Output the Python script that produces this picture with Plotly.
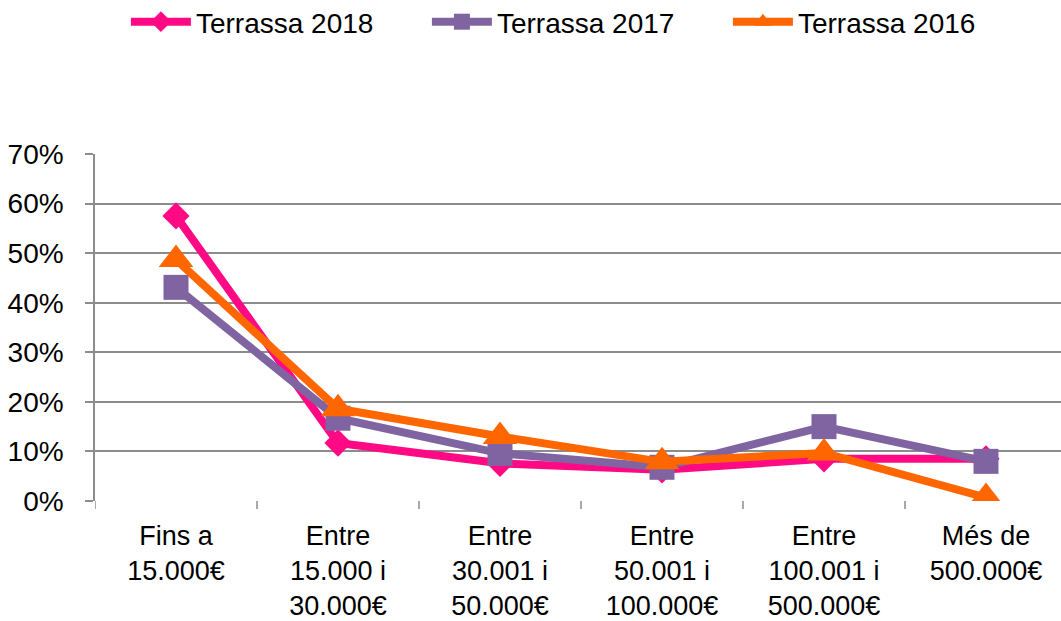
import plotly.graph_objects as go

categories = [
    "Fins a<br>15.000€",
    "Entre<br>15.000 i<br>30.000€",
    "Entre<br>30.001 i<br>50.000€",
    "Entre<br>50.001 i<br>100.000€",
    "Entre<br>100.001 i<br>500.000€",
    "Més de<br>500.000€",
]

terrassa_2018 = [0.575, 0.117, 0.076, 0.063, 0.085, 0.085]
terrassa_2017 = [0.431, 0.167, 0.096, 0.068, 0.150, 0.080]
terrassa_2016 = [0.487, 0.186, 0.130, 0.079, 0.097, 0.007]

y_ticks = [0, 0.1, 0.2, 0.3, 0.4, 0.5, 0.6, 0.7]
y_tick_labels = ["0%", "10%", "20%", "30%", "40%", "50%", "60%", "70%"]

series = [
    ("Terrassa 2018", terrassa_2018, "#FF0A84", "diamond", 21),
    ("Terrassa 2017", terrassa_2017, "#8064A2", "square", 25),
    ("Terrassa 2016", terrassa_2016, "#FF6600", "triangle-up", 30),
]

FONT = "Liberation Sans, Arial, sans-serif"

fig = go.Figure()
for name, values, color, symbol, size in series:
    fig.add_trace(go.Scatter(
        x=list(range(len(categories))),
        y=values,
        name=name,
        mode="lines+markers",
        line=dict(color=color, width=8),
        marker=dict(symbol=symbol, size=size, color=color, line=dict(width=0)),
    ))

grid = "#8C8C8C"
fig.update_layout(
    width=1061,
    height=621,
    paper_bgcolor="white",
    plot_bgcolor="white",
    margin=dict(l=95, r=0, t=154, b=120, autoexpand=False),
    font=dict(family=FONT, size=27, color="black"),
    showlegend=True,
    legend=dict(
        orientation="h",
        x=0.032, xanchor="left",
        yref="container",
        y=1 - 22 / 621, yanchor="middle",
        font=dict(size=28),
        itemwidth=60,
        entrywidth=226,
        tracegroupgap=0,
    ),
    xaxis=dict(
        tickmode="array",
        tickvals=list(range(len(categories))),
        ticktext=categories,
        range=[-0.5, 5.463],
        showgrid=False,
        zeroline=False,
        showline=False,
        ticks="",
        ticklabelstandoff=16,
        automargin=False,
        fixedrange=True,
    ),
    yaxis=dict(
        range=[0, 0.7],
        tickvals=y_ticks,
        ticktext=y_tick_labels,
        tickfont=dict(size=28),
        showgrid=True,
        gridcolor=grid,
        gridwidth=1.5,
        zeroline=False,
        showline=True,
        linecolor=grid,
        linewidth=1.5,
        ticks="outside",
        ticklen=8,
        tickcolor=grid,
        tickwidth=1.5,
        ticklabelstandoff=16,
        automargin=False,
        fixedrange=True,
    ),
)

# category boundary tick marks below the baseline
for i in range(len(categories)):
    fig.add_shape(
        type="line", xref="x", yref="paper",
        x0=i - 0.5, x1=i - 0.5, y0=0, y1=-8 / 347,
        line=dict(color=grid, width=1.5),
    )

fig.write_html("out.html")
